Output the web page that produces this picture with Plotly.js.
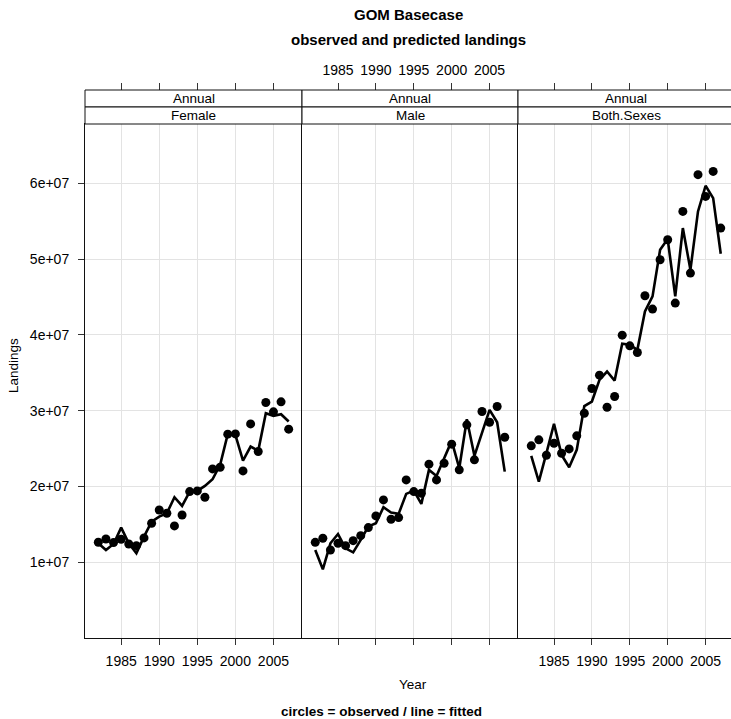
<!DOCTYPE html>
<html>
<head>
<meta charset="utf-8">
<script src="https://cdn.plot.ly/plotly-3.0.1.min.js"></script>
<style>
html,body{margin:0;padding:0;background:#fff;overflow:hidden;}
#chart{width:734px;height:719px;}
</style>
</head>
<body>
<div id="chart"></div>
<script>
// ---- data ----
const years = [1982,1983,1984,1985,1986,1987,1988,1989,1990,1991,1992,1993,1994,1995,1996,1997,1998,1999,2000,2001,2002,2003,2004,2005,2006,2007];
const panelNames = ["Female","Male","Both.Sexes"];
const stripTop = "Annual";
const femaleObs = [1.264e7,1.307e7,1.259e7,1.303e7,1.241e7,1.219e7,1.321e7,1.514e7,1.690e7,1.646e7,1.479e7,1.624e7,1.932e7,1.941e7,1.858e7,2.232e7,2.254e7,2.690e7,2.694e7,2.205e7,2.826e7,2.461e7,3.108e7,2.985e7,3.117e7,2.756e7];
const femaleFit = [1.250e7,1.162e7,1.241e7,1.457e7,1.250e7,1.118e7,1.338e7,1.536e7,1.602e7,1.646e7,1.858e7,1.743e7,1.932e7,1.941e7,2.007e7,2.095e7,2.285e7,2.690e7,2.681e7,2.342e7,2.527e7,2.470e7,2.967e7,2.932e7,2.954e7,2.857e7];
const maleObs = [1.263e7,1.316e7,1.162e7,1.250e7,1.219e7,1.285e7,1.351e7,1.457e7,1.611e7,1.823e7,1.567e7,1.589e7,2.087e7,1.932e7,1.911e7,2.294e7,2.087e7,2.307e7,2.558e7,2.219e7,2.813e7,2.351e7,2.989e7,2.848e7,3.055e7,2.650e7];
const maleFit = [1.162e7,0.907e7,1.250e7,1.373e7,1.184e7,1.131e7,1.294e7,1.470e7,1.514e7,1.726e7,1.655e7,1.638e7,1.902e7,1.946e7,1.770e7,2.219e7,2.139e7,2.360e7,2.602e7,2.241e7,2.888e7,2.404e7,2.703e7,3.011e7,2.848e7,2.196e7];
const bothObs = [2.536e7,2.615e7,2.412e7,2.571e7,2.439e7,2.496e7,2.668e7,2.967e7,3.293e7,3.469e7,3.046e7,3.187e7,3.997e7,3.856e7,3.768e7,4.517e7,4.341e7,4.992e7,5.256e7,4.420e7,5.630e7,4.816e7,6.115e7,5.828e7,6.158e7,5.410e7];
const bothFit = [2.404e7,2.065e7,2.439e7,2.826e7,2.417e7,2.254e7,2.483e7,3.060e7,3.121e7,3.407e7,3.517e7,3.398e7,3.883e7,3.870e7,3.803e7,4.310e7,4.508e7,5.124e7,5.265e7,4.508e7,5.410e7,4.860e7,5.630e7,5.969e7,5.806e7,5.071e7];
const xTickVals = [1985,1990,1995,2000,2005];
const yTickVals = [1e7,2e7,3e7,4e7,5e7,6e7];
const yTickText = ["1e+07","2e+07","3e+07","4e+07","5e+07","6e+07"];

// ---- layout geometry ----
const W = 734, H = 719;
const mL = 85, mR = 0, mT = 90, mB = 81;
const pw = W - mL - mR, ph = H - mT - mB;
const stripBottomPx = 124, stripMidPx = 107;
const yTop = (H - mB - stripBottomPx) / ph;
const yMid = (H - mB - stripMidPx) / ph;
const xRange = [1980.25, 2008.75];
const yRange = [0, 6.784e7];
const FONT = "Liberation Sans, Arial, Helvetica, sans-serif";
const doms = [[0, 217 / pw], [217 / pw, 433 / pw], [433 / pw, 1]];

const obsSets = [femaleObs, maleObs, bothObs];
const fitSets = [femaleFit, maleFit, bothFit];

const traces = [];
for (let i = 0; i < 3; i++) {
  const xa = i === 0 ? "x" : "x" + (i + 1);
  const ya = i === 0 ? "y" : "y" + (i + 1);
  traces.push({x: years, y: fitSets[i], xaxis: xa, yaxis: ya, type: "scatter", mode: "lines",
    line: {color: "#000", width: 2.6}, showlegend: false, hoverinfo: "skip"});
  traces.push({x: years, y: obsSets[i], xaxis: xa, yaxis: ya, type: "scatter", mode: "markers",
    marker: {color: "#000", size: 9}, showlegend: false, hoverinfo: "skip"});
  // empty trace to register top-tick overlay axis
  traces.push({x: [], y: [], xaxis: "x" + (i + 4), yaxis: ya, type: "scatter", mode: "markers",
    showlegend: false, hoverinfo: "skip"});
}

const layout = {
  width: W, height: H,
  margin: {l: mL, r: mR, t: mT, b: mB},
  paper_bgcolor: "#fff", plot_bgcolor: "#fff",
  font: {family: FONT, color: "#000", size: 14},
  showlegend: false,
  shapes: [], annotations: []
};

for (let i = 0; i < 3; i++) {
  const k = i === 0 ? "" : String(i + 1);
  layout["xaxis" + k] = {
    domain: doms[i], range: xRange, anchor: "y" + k,
    tickmode: "array", tickvals: xTickVals, ticktext: xTickVals.map(String),
    showticklabels: i !== 1, ticks: "outside", ticklen: 6, tickcolor: "#333", tickwidth: 1,
    ticklabelstandoff: 4,
    showgrid: true, gridcolor: "#e3e3e3", gridwidth: 1, zeroline: false,
    showline: true, linecolor: "#111", linewidth: 1, mirror: true,
    tickfont: {family: FONT, size: 14, color: "#000"}, fixedrange: true
  };
  layout["yaxis" + k] = {
    domain: [0, yTop], range: yRange, anchor: "x" + k,
    tickmode: "array", tickvals: yTickVals, ticktext: yTickText,
    showticklabels: i === 0, ticks: i === 0 ? "outside" : "", ticklen: 6, tickcolor: "#333",
    ticklabelstandoff: 6,
    showgrid: true, gridcolor: "#e3e3e3", gridwidth: 1, zeroline: false,
    showline: true, linecolor: "#111", linewidth: 1, mirror: i === 2,
    tickfont: {family: FONT, size: 14, color: "#000"}, fixedrange: true
  };
  layout["xaxis" + (i + 4)] = {
    overlaying: "x" + k, side: "top", anchor: "free", position: 1,
    domain: doms[i], range: xRange,
    tickmode: "array", tickvals: xTickVals, ticktext: xTickVals.map(String),
    showticklabels: i === 1, ticks: "outside", ticklen: 7, tickcolor: "#333", tickwidth: 1,
    ticklabelstandoff: 2,
    showgrid: false, zeroline: false, showline: false,
    tickfont: {family: FONT, size: 14, color: "#000"}, fixedrange: true
  };
  // strips
  layout.shapes.push({type: "rect", xref: "paper", yref: "paper", x0: doms[i][0], x1: doms[i][1], y0: yMid, y1: 1,
    line: {color: "#111", width: 1}, fillcolor: "#fff", layer: "above"});
  layout.shapes.push({type: "rect", xref: "paper", yref: "paper", x0: doms[i][0], x1: doms[i][1], y0: yTop, y1: yMid,
    line: {color: "#111", width: 1}, fillcolor: "#fff", layer: "above"});
  layout.annotations.push({xref: "paper", yref: "paper", x: (doms[i][0] + doms[i][1]) / 2, y: (yMid + 1) / 2,
    text: stripTop, showarrow: false, xanchor: "center", yanchor: "middle",
    font: {family: FONT, size: 13.5, color: "#000"}});
  layout.annotations.push({xref: "paper", yref: "paper", x: (doms[i][0] + doms[i][1]) / 2, y: (yTop + yMid) / 2,
    text: panelNames[i], showarrow: false, xanchor: "center", yanchor: "middle",
    font: {family: FONT, size: 13.5, color: "#000"}});
}

const px2x = p => (p - mL) / pw;
const px2y = p => (H - mB - p) / ph;
layout.annotations.push({xref: "paper", yref: "paper", x: px2x(408), y: px2y(14), text: "<b>GOM Basecase</b>",
  showarrow: false, xanchor: "center", yanchor: "middle", font: {family: FONT, size: 15, color: "#000"}});
layout.annotations.push({xref: "paper", yref: "paper", x: px2x(408), y: px2y(39), text: "<b>observed and predicted landings</b>",
  showarrow: false, xanchor: "center", yanchor: "middle", font: {family: FONT, size: 15, color: "#000"}});
layout.annotations.push({xref: "paper", yref: "paper", x: px2x(413), y: px2y(684), text: "Year",
  showarrow: false, xanchor: "center", yanchor: "middle", font: {family: FONT, size: 13.5, color: "#000"}});
layout.annotations.push({xref: "paper", yref: "paper", x: px2x(381), y: px2y(711), text: "<b>circles = observed / line = fitted</b>",
  showarrow: false, xanchor: "center", yanchor: "middle", font: {family: FONT, size: 13.5, color: "#000"}});
layout.annotations.push({xref: "paper", yref: "paper", x: px2x(14), y: px2y(366), text: "Landings", textangle: -90,
  showarrow: false, xanchor: "center", yanchor: "middle", font: {family: FONT, size: 13.5, color: "#000"}});

Plotly.newPlot("chart", traces, layout, {staticPlot: true, displayModeBar: false});
</script>
</body>
</html>
